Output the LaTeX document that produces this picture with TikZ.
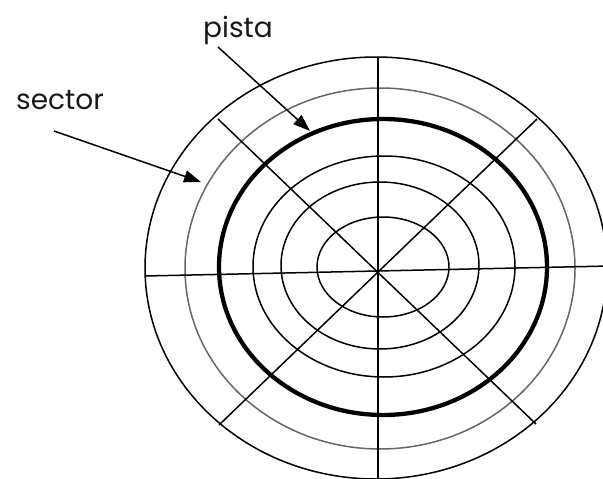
\documentclass[tikz,border=0pt]{standalone}
\usepackage{fontspec}
\setmainfont{Poppins}
\usetikzlibrary{arrows.meta}
\begin{document}
\begin{tikzpicture}[x=1pt,y=-1pt,
  ring/.style={line width=1.5pt, black},
  grayring/.style={line width=1.5pt, black!60},
  thickring/.style={line width=4.3pt, black},
  spoke/.style={line width=1.5pt, black},
  label/.style={font=\fontsize{28}{32}\selectfont, text=black!90, inner sep=0pt, anchor=base},
  pointer/.style={line width=1.5pt, -{Triangle[length=17pt,width=12pt]}}]
\useasboundingbox (0,0) rectangle (603,479);
\clip (0,0) rectangle (603,479);
% tracks
\draw[ring] (383,267) ellipse [x radius=66, y radius=50];
\draw[ring] (380,265.5) ellipse [x radius=99, y radius=83.5];
\draw[ring] (384,266.5) ellipse [x radius=131, y radius=110.5];
\draw[thickring] (383,267) ellipse [x radius=164, y radius=148];
\draw[grayring] (380,268.5) ellipse [x radius=195, y radius=180.5];
\draw[ring] (376,268) ellipse [x radius=231, y radius=211];
% spokes
\coordinate (c) at (378,272);
\coordinate (nw) at (218,119);
\coordinate (ne) at (537,119);
\coordinate (sw) at (219,425);
\coordinate (se) at (536,424);
\coordinate (n) at (378,57);
\coordinate (s) at (378,485);
\coordinate (w) at (145,276);
\coordinate (e) at (610,266);
\draw[spoke] (nw) -- (se);
\draw[spoke] (ne) -- (sw);
\draw[spoke] (n) -- (s);
\draw[spoke] (w) -- (e);
% labels
\node[label] (pista) at (238,37) {pista};
\node[label] (sector) at (60,109) {sector};
\coordinate (pistafrom) at (218,47);
\coordinate (pistato) at (310,131);
\coordinate (sectorfrom) at (54,131);
\coordinate (sectorto) at (201,182);
\draw[pointer] (pistafrom) -- (pistato);
\draw[pointer] (sectorfrom) -- (sectorto);
\end{tikzpicture}
\end{document}
